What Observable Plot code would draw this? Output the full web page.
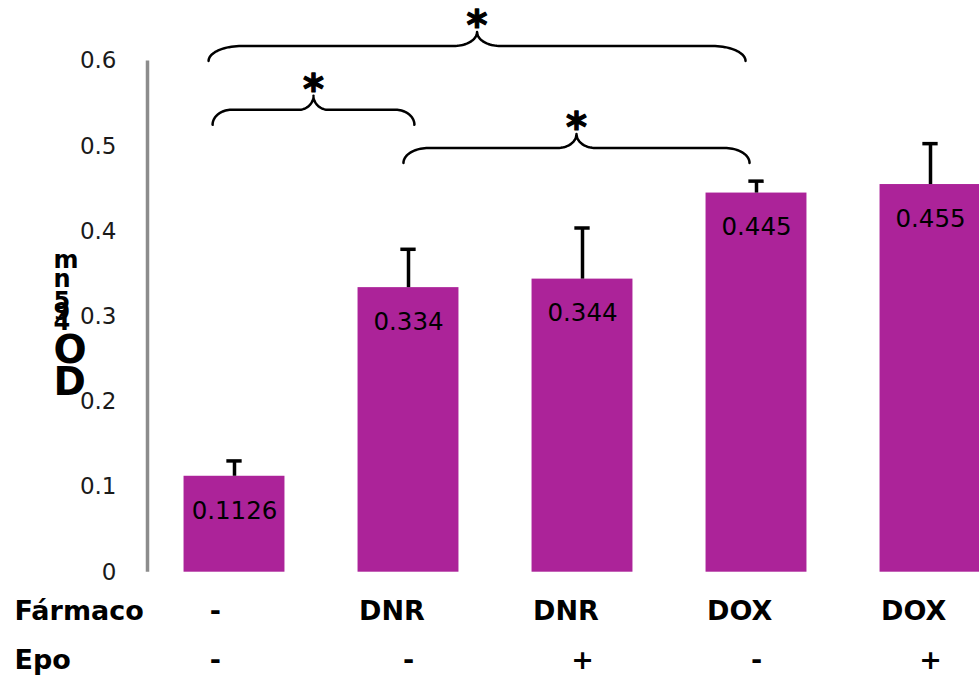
<!DOCTYPE html>
<html>
<head>
<meta charset="utf-8">
<script src="https://cdn.jsdelivr.net/npm/d3@7"></script>
<script src="https://cdn.jsdelivr.net/npm/@observablehq/plot@0.6"></script>
<style>
  html, body { margin: 0; padding: 0; background: #fff; overflow: hidden; }
  #chart svg { display: block; }
</style>
</head>
<body>
<div id="chart"></div>
<script>
// Treatment groups: drug and Epo status for each bar
const farmaco = ["-", "DNR", "DNR", "DOX", "DOX"];
const epo = ["-", "-", "+", "-", "+"];
// Mean absorbance and its error
const means = [0.1126, 0.334, 0.344, 0.445, 0.455];
const errors = [0.018, 0.045, 0.06, 0.014, 0.048];
// Y axis ticks
const yTicks = [0, 0.1, 0.2, 0.3, 0.4, 0.5, 0.6];
// Significance braces: span along the bar index axis and height on the OD axis
const bracketFrom = [-0.149, -0.126, 0.971];
const bracketTo = [2.937, 1.034, 2.960];
const bracketLevel = [0.6176, 0.5427, 0.4979];
const bracketMark = ["*", "*", "*"];
// Axis title, drawn as stacked glyphs
const axisGlyphs = ["m", "n", "5", "9", "4", "O", "D"];
const axisGlyphAt = [0.3576, 0.3342, 0.3095, 0.2955, 0.2838, 0.2452, 0.2074];

// Layout
const W = 979, H = 676;
const mL = 147, mR = 0, mT = 60.5, mB = 104.3;
const step = 174;                       // px between bar centres
const xDomain = [-0.5, -0.5 + (W - mL - mR) / step];
const kx = step;                        // px per bar-index unit
const ky = (H - mT - mB) / 0.6;         // px per OD unit
const half = 0.29;                      // half bar width, in bar units
const capHalf = 0.044;

const bars = means.map((m, i) => ({i, mean: m, err: errors[i], farmaco: farmaco[i], epo: epo[i]}));
const colX = bars.map(d => d.i === 0 ? d.i - 0.11 : d.i);

const brackets = bracketFrom.map((x1, k) => ({id: k, x1, x2: bracketTo[k], level: bracketLevel[k], mark: bracketMark[k]}));

// Curly brace outline built from quarter ellipses
function bracePoints(b) {
  const w = (b.x2 - b.x1) * kx;
  const rx = (10 + 0.043 * w) / kx, ry = 15 / ky;
  const rc = (10 + 0.025 * w) / kx, hc = 14 / ky;
  const mid = (b.x1 + b.x2) / 2;
  const n = 20, pts = [];
  const T = k => (k / n) * Math.PI / 2;
  for (let k = 0; k <= n; k++) { const t = T(k); pts.push({id: b.id, x: b.x1 + rx * (1 - Math.cos(t)), y: b.level - ry + ry * Math.sin(t)}); }
  for (let k = 0; k <= n; k++) { const t = T(k); pts.push({id: b.id, x: mid - rc + rc * Math.sin(t), y: b.level + hc * (1 - Math.cos(t))}); }
  for (let k = n; k >= 0; k--) { const t = T(k); pts.push({id: b.id, x: mid + rc - rc * Math.sin(t), y: b.level + hc * (1 - Math.cos(t))}); }
  for (let k = n; k >= 0; k--) { const t = T(k); pts.push({id: b.id, x: b.x2 - rx * (1 - Math.cos(t)), y: b.level - ry + ry * Math.sin(t)}); }
  return pts;
}
const braceLines = brackets.flatMap(bracePoints);

const font = "DejaVu Sans";
const barColor = "#ac2399";

const chart = Plot.plot({
  width: W,
  height: H,
  marginLeft: mL,
  marginRight: mR,
  marginTop: mT,
  marginBottom: mB,
  style: {fontFamily: font, fontSize: "23px", color: "#1a1a1a", background: "#fff", overflow: "hidden"},
  x: {type: "linear", domain: xDomain, axis: null},
  y: {domain: [0, 0.6], ticks: yTicks, tickFormat: d => String(d), tickSize: 0, tickPadding: 31, label: null},
  marks: [
    // left axis line
    Plot.ruleX([xDomain[0]], {y1: 0, y2: 0.6, stroke: "#8c8c8c", strokeWidth: 3.5}),
    // bars
    Plot.rectY(bars, {x1: d => d.i - half, x2: d => d.i + half, y: "mean", fill: barColor}),
    // error bars
    Plot.ruleX(bars, {x: "i", y1: "mean", y2: d => d.mean + d.err, stroke: "#000", strokeWidth: 3.5}),
    Plot.ruleY(bars, {y: d => d.mean + d.err, x1: d => d.i - capHalf, x2: d => d.i + capHalf, stroke: "#000", strokeWidth: 3.5}),
    // values inside bars
    Plot.text(bars, {x: "i", y: "mean", text: d => String(d.mean), dy: 34.5, lineAnchor: "middle",
      fontSize: 24.5, fill: "#000", fontFamily: font}),
    // significance braces and asterisks
    Plot.line(braceLines, {x: "x", y: "y", z: "id", stroke: "#000", strokeWidth: 2.5, curve: "linear"}),
    Plot.text(brackets, {x: d => (d.x1 + d.x2) / 2, y: "level", text: "mark", lineAnchor: "bottom", dy: -7,
      fontSize: 40, fontWeight: "bold", fill: "#000", stroke: "#000", strokeWidth: 1.2, fontFamily: font}),
    // y axis title glyphs
    Plot.text(axisGlyphs, {frameAnchor: "left", dx: -94, y: (d, i) => axisGlyphAt[i], text: d => d,
      textAnchor: "start", lineAnchor: "bottom", fontWeight: "bold", fill: "#000", fontFamily: font,
      fontSize: (d, i) => i >= 5 ? 39 : 24}),
    // table rows below the bars
    Plot.text(["Fármaco"], {frameAnchor: "bottom-left", dx: 14 - mL, dy: 48, textAnchor: "start", lineAnchor: "bottom",
      fontSize: 27, fontWeight: "bold", fill: "#000", fontFamily: font}),
    Plot.text(["Epo"], {frameAnchor: "bottom-left", dx: 14 - mL, dy: 97, textAnchor: "start", lineAnchor: "bottom",
      fontSize: 27, fontWeight: "bold", fill: "#000", fontFamily: font}),
    Plot.text(bars.filter(d => d.farmaco === "-"), {x: d => colX[d.i], frameAnchor: "bottom", dy: 48, text: "farmaco",
      lineAnchor: "bottom", fontSize: 27, fontWeight: "bold", fill: "#000", fontFamily: font}),
    Plot.text(bars.filter(d => d.farmaco !== "-"), {x: d => d.i - half, frameAnchor: "bottom", dx: 1, dy: 48, text: "farmaco",
      textAnchor: "start", lineAnchor: "bottom", fontSize: 27, fontWeight: "bold", fill: "#000", fontFamily: font}),
    Plot.text(bars, {x: d => colX[d.i], frameAnchor: "bottom", dy: 97, text: "epo",
      lineAnchor: "bottom", fontSize: 27, fontWeight: "bold", fill: "#000", fontFamily: font})
  ]
});

document.getElementById("chart").append(chart);
</script>
</body>
</html>
